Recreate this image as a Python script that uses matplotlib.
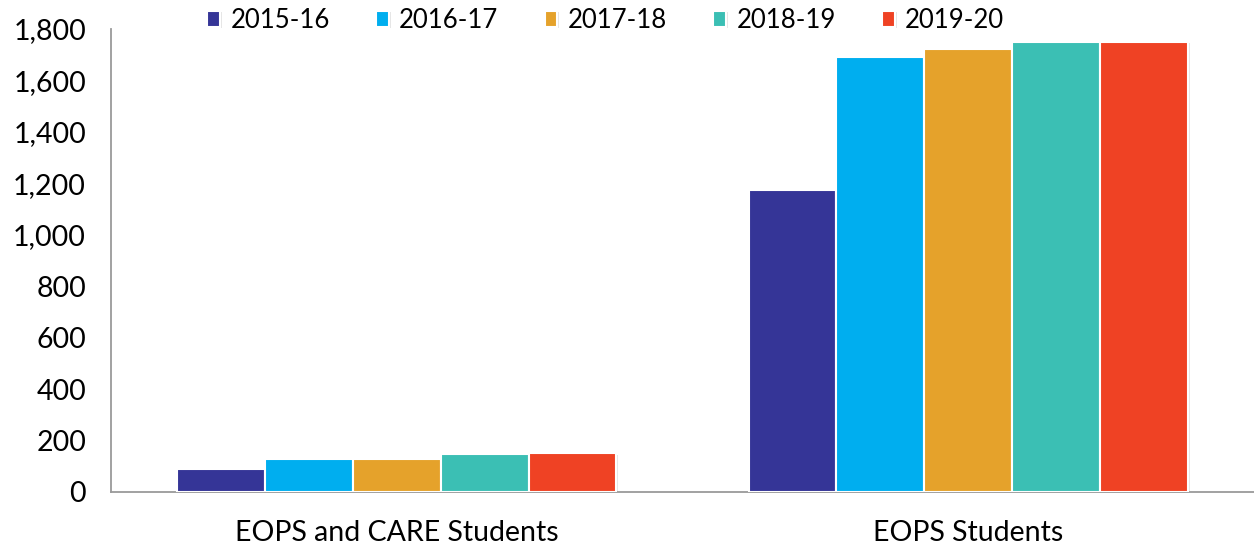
import numpy as np
import matplotlib
matplotlib.use("Agg")
import matplotlib.pyplot as plt
import matplotlib.patheffects as pe
from matplotlib.ticker import FuncFormatter

categories = ["EOPS and CARE Students", "EOPS Students"]
years = ["2015-16", "2016-17", "2017-18", "2018-19", "2019-20"]
values = {
    "2015-16": [91, 1173],
    "2016-17": [127, 1690],
    "2017-18": [127, 1722],
    "2018-19": [147, 1750],
    "2019-20": [150, 1750],
}
colors = ["#353597", "#00AEEF", "#E5A22B", "#3BBFB4", "#EF4224"]

plt.rcParams["font.family"] = ["Lato", "DejaVu Sans"]

fig = plt.figure(figsize=(12.54, 5.5), dpi=100)
ax = fig.add_axes([111 / 1254, 1 - 492 / 550, 1 - 111 / 1254, (492 - 29) / 550])

x = np.arange(len(categories))
width = 0.1537
shadow = [pe.SimplePatchShadow(offset=(1.5, -1), shadow_rgbFace="0.6", alpha=0.25), pe.Normal()]
for i, (yr, c) in enumerate(zip(years, colors)):
    bars = ax.bar(x + (i - 2) * width, values[yr], width, color=c, edgecolor="white",
                  linewidth=1.5, label=yr, zorder=3)
    for b in bars:
        b.set_path_effects(shadow)

ax.set_xlim(-0.5, 1.5)
ax.set_ylim(0, 1800)
ax.set_yticks(np.arange(0, 1801, 200))
ax.yaxis.set_major_formatter(FuncFormatter(lambda v, p: f"{int(v):,}"))
ax.set_xticks(x)
ax.set_xticklabels(categories)
ax.tick_params(axis="both", length=0, labelsize=20.5)
ax.tick_params(axis="x", pad=20)
ax.tick_params(axis="y", pad=18)
for s in ["top", "right"]:
    ax.spines[s].set_visible(False)
for s in ["left", "bottom"]:
    ax.spines[s].set_color("#9a9a9a")
    ax.spines[s].set_linewidth(1.3)

fig.legend(loc="upper center", bbox_to_anchor=(0.483, 1.028), ncol=5, frameon=False,
           fontsize=18.5, handlelength=0.5, handleheight=0.6, handletextpad=0.4,
           columnspacing=1.8)

fig.savefig("out.png", dpi=100)
